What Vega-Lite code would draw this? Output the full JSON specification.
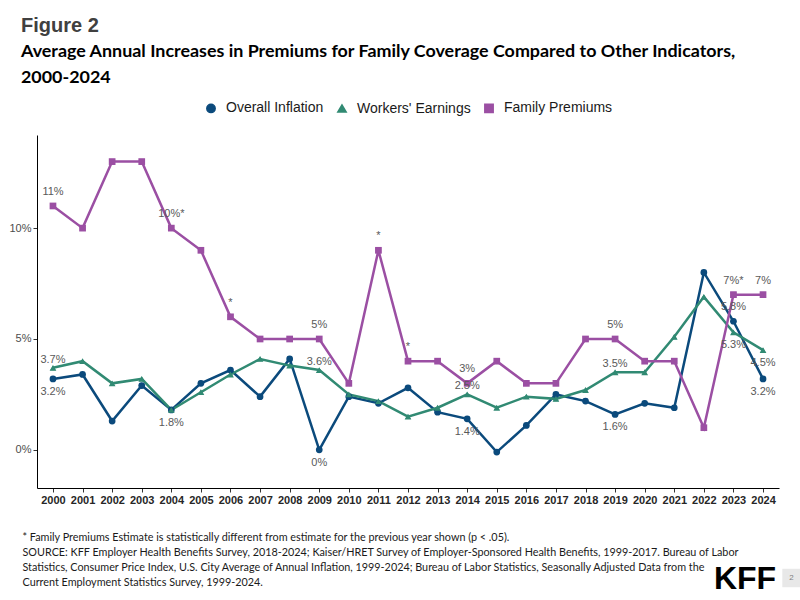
{
  "$schema": "https://vega.github.io/schema/vega-lite/v6.json",
  "width": 800,
  "height": 600,
  "autosize": {"type": "fit", "contains": "padding"},
  "padding": {"left": 8, "top": 16, "right": 0, "bottom": 5},
  "background": "white",
  "title": {
    "text": "Figure 2",
    "subtitle": ["Average Annual Increases in Premiums for Family Coverage Compared to Other Indicators,", "2000-2024"],
    "anchor": "start",
    "frame": "bounds",
    "dx": 12,
    "font": "Liberation Sans",
    "fontSize": 20,
    "fontWeight": "bold",
    "color": "#404040",
    "subtitleFont": "Lato",
    "subtitleFontSize": 17.9,
    "subtitleFontWeight": "bold",
    "subtitleColor": "#000000",
    "subtitleLineHeight": 26,
    "subtitlePadding": 7,
    "offset": 14
  },
  "datasets": {
    "indicators": [
      {"year": 2000, "series": "Overall Inflation", "value": 3.2, "label": "3.2%"},
      {"year": 2001, "series": "Overall Inflation", "value": 3.4},
      {"year": 2002, "series": "Overall Inflation", "value": 1.3},
      {"year": 2003, "series": "Overall Inflation", "value": 2.9},
      {"year": 2004, "series": "Overall Inflation", "value": 1.8, "label": "1.8%"},
      {"year": 2005, "series": "Overall Inflation", "value": 3.0},
      {"year": 2006, "series": "Overall Inflation", "value": 3.6},
      {"year": 2007, "series": "Overall Inflation", "value": 2.4},
      {"year": 2008, "series": "Overall Inflation", "value": 4.1},
      {"year": 2009, "series": "Overall Inflation", "value": 0.0, "label": "0%"},
      {"year": 2010, "series": "Overall Inflation", "value": 2.4},
      {"year": 2011, "series": "Overall Inflation", "value": 2.1},
      {"year": 2012, "series": "Overall Inflation", "value": 2.8},
      {"year": 2013, "series": "Overall Inflation", "value": 1.7},
      {"year": 2014, "series": "Overall Inflation", "value": 1.4, "label": "1.4%"},
      {"year": 2015, "series": "Overall Inflation", "value": -0.1},
      {"year": 2016, "series": "Overall Inflation", "value": 1.1},
      {"year": 2017, "series": "Overall Inflation", "value": 2.5},
      {"year": 2018, "series": "Overall Inflation", "value": 2.2},
      {"year": 2019, "series": "Overall Inflation", "value": 1.6, "label": "1.6%"},
      {"year": 2020, "series": "Overall Inflation", "value": 2.1},
      {"year": 2021, "series": "Overall Inflation", "value": 1.9},
      {"year": 2022, "series": "Overall Inflation", "value": 8.0},
      {"year": 2023, "series": "Overall Inflation", "value": 5.8, "label": "5.8%"},
      {"year": 2024, "series": "Overall Inflation", "value": 3.2, "label": "3.2%"},
      {"year": 2000, "series": "Workers' Earnings", "value": 3.7, "label": "3.7%"},
      {"year": 2001, "series": "Workers' Earnings", "value": 4.0},
      {"year": 2002, "series": "Workers' Earnings", "value": 3.0},
      {"year": 2003, "series": "Workers' Earnings", "value": 3.2},
      {"year": 2004, "series": "Workers' Earnings", "value": 1.8},
      {"year": 2005, "series": "Workers' Earnings", "value": 2.6},
      {"year": 2006, "series": "Workers' Earnings", "value": 3.4},
      {"year": 2007, "series": "Workers' Earnings", "value": 4.1},
      {"year": 2008, "series": "Workers' Earnings", "value": 3.8},
      {"year": 2009, "series": "Workers' Earnings", "value": 3.6, "label": "3.6%"},
      {"year": 2010, "series": "Workers' Earnings", "value": 2.5},
      {"year": 2011, "series": "Workers' Earnings", "value": 2.2},
      {"year": 2012, "series": "Workers' Earnings", "value": 1.5},
      {"year": 2013, "series": "Workers' Earnings", "value": 1.9},
      {"year": 2014, "series": "Workers' Earnings", "value": 2.5, "label": "2.5%"},
      {"year": 2015, "series": "Workers' Earnings", "value": 1.9},
      {"year": 2016, "series": "Workers' Earnings", "value": 2.4},
      {"year": 2017, "series": "Workers' Earnings", "value": 2.3},
      {"year": 2018, "series": "Workers' Earnings", "value": 2.7},
      {"year": 2019, "series": "Workers' Earnings", "value": 3.5, "label": "3.5%"},
      {"year": 2020, "series": "Workers' Earnings", "value": 3.5},
      {"year": 2021, "series": "Workers' Earnings", "value": 5.1},
      {"year": 2022, "series": "Workers' Earnings", "value": 6.9},
      {"year": 2023, "series": "Workers' Earnings", "value": 5.3, "label": "5.3%"},
      {"year": 2024, "series": "Workers' Earnings", "value": 4.5, "label": "4.5%"},
      {"year": 2000, "series": "Family Premiums", "value": 11, "label": "11%"},
      {"year": 2001, "series": "Family Premiums", "value": 10},
      {"year": 2002, "series": "Family Premiums", "value": 13},
      {"year": 2003, "series": "Family Premiums", "value": 13},
      {"year": 2004, "series": "Family Premiums", "value": 10, "label": "10%*"},
      {"year": 2005, "series": "Family Premiums", "value": 9},
      {"year": 2006, "series": "Family Premiums", "value": 6, "label": "*"},
      {"year": 2007, "series": "Family Premiums", "value": 5},
      {"year": 2008, "series": "Family Premiums", "value": 5},
      {"year": 2009, "series": "Family Premiums", "value": 5, "label": "5%"},
      {"year": 2010, "series": "Family Premiums", "value": 3},
      {"year": 2011, "series": "Family Premiums", "value": 9, "label": "*"},
      {"year": 2012, "series": "Family Premiums", "value": 4, "label": "*"},
      {"year": 2013, "series": "Family Premiums", "value": 4},
      {"year": 2014, "series": "Family Premiums", "value": 3, "label": "3%"},
      {"year": 2015, "series": "Family Premiums", "value": 4},
      {"year": 2016, "series": "Family Premiums", "value": 3},
      {"year": 2017, "series": "Family Premiums", "value": 3},
      {"year": 2018, "series": "Family Premiums", "value": 5},
      {"year": 2019, "series": "Family Premiums", "value": 5, "label": "5%"},
      {"year": 2020, "series": "Family Premiums", "value": 4},
      {"year": 2021, "series": "Family Premiums", "value": 4},
      {"year": 2022, "series": "Family Premiums", "value": 1},
      {"year": 2023, "series": "Family Premiums", "value": 7, "label": "7%*"},
      {"year": 2024, "series": "Family Premiums", "value": 7, "label": "7%"}
    ],
    "branding": [{"logo": "KFF", "page": "2"}]
  },
  "layer": [
    {
      "data": {"name": "indicators"},
      "encoding": {
        "x": {
          "field": "year",
          "type": "ordinal",
          "scale": {"type": "point", "padding": 0.54},
          "axis": {
            "labelAngle": 0,
            "labelFont": "Liberation Sans",
            "labelFontSize": 11,
            "labelFontWeight": "bold",
            "labelColor": "#262626",
            "labelPadding": 2,
            "tickSize": 4,
            "tickColor": "#333333",
            "domainColor": "#000000",
            "domainWidth": 1,
            "title": [
              "* Family Premiums Estimate is statistically different from estimate for the previous year shown (p < .05).",
              "SOURCE: KFF Employer Health Benefits Survey, 2018-2024; Kaiser/HRET Survey of Employer-Sponsored Health Benefits, 1999-2017. Bureau of Labor",
              "Statistics, Consumer Price Index, U.S. City Average of Annual Inflation, 1999-2024; Bureau of Labor Statistics, Seasonally Adjusted Data from the",
              "Current Employment Statistics Survey, 1999-2024."
            ],
            "titleFont": "Lato",
            "titleFontSize": 10.8,
            "titleFontWeight": "normal",
            "titleColor": "#1a1a1a",
            "titleLineHeight": 15,
            "titleAnchor": "start",
            "titleAlign": "left",
            "titleBaseline": "alphabetic",
            "titleX": -15,
            "titleY": 52
          }
        },
        "y": {
          "field": "value",
          "type": "quantitative",
          "scale": {"domain": [-1.72, 14.2], "nice": false, "zero": false},
          "axis": {
            "values": [0, 5, 10],
            "labelExpr": "datum.value + '%'",
            "grid": false,
            "title": null,
            "labelFont": "Liberation Sans",
            "labelFontSize": 11,
            "labelColor": "#4d4d4d",
            "labelPadding": 2,
            "tickSize": 4,
            "tickColor": "#333333",
            "domainColor": "#000000",
            "domainWidth": 1
          }
        }
      },
      "layer": [
        {
          "mark": {"type": "line", "strokeWidth": 2.5},
          "encoding": {
            "color": {
              "field": "series",
              "type": "nominal",
              "scale": {"domain": ["Overall Inflation", "Workers' Earnings", "Family Premiums"], "range": ["#0b4a7c", "#318a73", "#9b4fa3"]},
              "legend": {
                "title": null,
                "orient": "top",
                "direction": "horizontal",
                "labelFont": "Liberation Sans",
                "labelFontSize": 14,
                "labelColor": "#1a1a1a",
                "symbolSize": 70,
                "columnPadding": 10,
                "labelOffset": 8,
                "offset": 19
              }
            },
            "shape": {
              "field": "series",
              "type": "nominal",
              "scale": {"domain": ["Overall Inflation", "Workers' Earnings", "Family Premiums"], "range": ["circle", "triangle-up", "square"]}
            }
          }
        },
        {
          "mark": {"type": "point", "filled": true, "opacity": 1, "size": 45},
          "encoding": {
            "color": {"field": "series", "type": "nominal"},
            "shape": {"field": "series", "type": "nominal"}
          }
        },
        {
          "transform": [{"filter": "datum.label != null && (datum.series == 'Family Premiums' || (datum.series == 'Overall Inflation' && datum.year == 2023))"}],
          "mark": {"type": "text", "font": "Liberation Sans", "fontSize": 11, "color": "#595959", "dy": -11, "baseline": "alphabetic"},
          "encoding": {"text": {"field": "label"}}
        },
        {
          "transform": [{"filter": "datum.label != null && datum.series == \"Workers' Earnings\" && datum.year < 2020"}],
          "mark": {"type": "text", "font": "Liberation Sans", "fontSize": 11, "color": "#595959", "dy": -5, "baseline": "alphabetic"},
          "encoding": {"text": {"field": "label"}}
        },
        {
          "transform": [{"filter": "datum.label != null && ((datum.series == 'Overall Inflation' && datum.year != 2023) || (datum.series == \"Workers' Earnings\" && datum.year >= 2020))"}],
          "mark": {"type": "text", "font": "Liberation Sans", "fontSize": 11, "color": "#595959", "dy": 16, "baseline": "alphabetic"},
          "encoding": {"text": {"field": "label"}}
        }
      ]
    },
    {
      "data": {"name": "branding"},
      "mark": {"type": "text", "font": "Liberation Sans", "fontSize": 32, "fontWeight": "bold", "fill": "#000000", "align": "center", "baseline": "alphabetic", "dx": -18, "dy": 101},
      "encoding": {
        "x": {"datum": 2024, "type": "ordinal"},
        "y": {"datum": -1.72, "type": "quantitative"},
        "text": {"field": "logo", "type": "nominal"}
      }
    },
    {
      "data": {"name": "branding"},
      "mark": {"type": "square", "size": 340, "filled": true, "fill": "#e8e8e8", "opacity": 1, "xOffset": 28.5, "yOffset": 90},
      "encoding": {
        "x": {"datum": 2024, "type": "ordinal"},
        "y": {"datum": -1.72, "type": "quantitative"}
      }
    },
    {
      "data": {"name": "branding"},
      "mark": {"type": "text", "font": "Liberation Sans", "fontSize": 8, "fill": "#7f7f7f", "align": "center", "baseline": "middle", "dx": 28.5, "dy": 90},
      "encoding": {
        "x": {"datum": 2024, "type": "ordinal"},
        "y": {"datum": -1.72, "type": "quantitative"},
        "text": {"field": "page", "type": "nominal"}
      }
    }
  ],
  "config": {
    "view": {"stroke": null},
    "legend": {"layout": {"top": {"anchor": "middle"}}}
  }
}
